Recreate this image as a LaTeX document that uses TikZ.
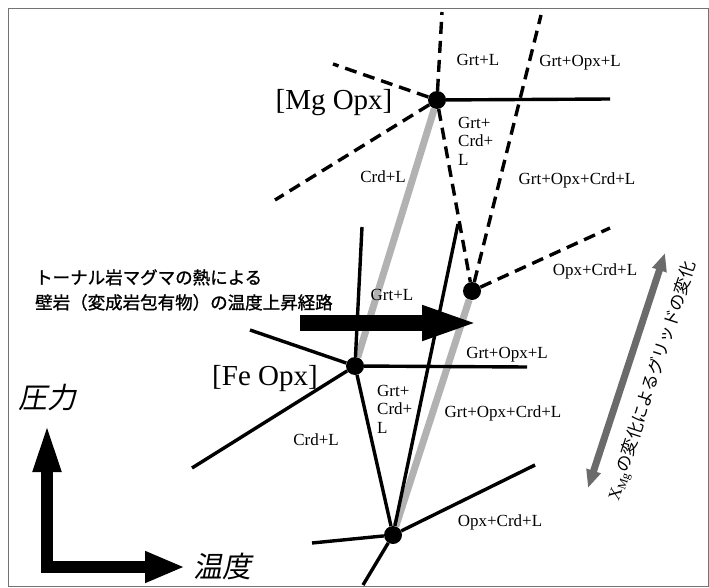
\documentclass[tikz,border=0pt]{standalone}
\usepackage{fontspec}
\setmainfont{Liberation Serif}
\newfontfamily\jp{Noto Sans CJK JP}
\newfontfamily\jpb[FakeBold=1.2]{Noto Sans CJK JP}
\newfontfamily\jpslant[FakeSlant=0.2]{Noto Sans CJK JP}
\usetikzlibrary{arrows.meta}
\begin{document}
\begin{tikzpicture}[x=1pt,y=-1pt,
  lab/.style={font=\fontsize{17}{18.5}\selectfont, inner sep=0pt},
  stack/.style={lab, align=left, anchor=west},
  big/.style={font=\fontsize{29}{30}\selectfont, inner sep=0pt, anchor=base},
  dot/.style={circle, fill=black, inner sep=0pt, minimum size=18pt},
  sol/.style={line width=3.4pt},
  dsh/.style={line width=3.4pt, dash pattern=on 12pt off 7pt},
  heatpath/.style={line width=7pt, color=black!30},
  ]
\useasboundingbox (0,0) rectangle (709,588);
\draw[black!55, line width=1pt] (8,9) rectangle (708,586);

% invariant points
\node[dot] (mg) at (437,100) {};
\node[dot] (mid) at (472,291) {};
\node[dot] (fe) at (355,366) {};
\node[dot] (bot) at (393,535) {};

% free ends
\coordinate (mgU) at (442,12);
\coordinate (mgUL) at (333,64);
\coordinate (mgDL) at (275,200);
\coordinate (mgR) at (610,99);
\coordinate (miU) at (541,15);
\coordinate (miR) at (610,228);
\coordinate (feU) at (362,227);
\coordinate (feUL) at (250,330);
\coordinate (feDL) at (192,468);
\coordinate (feR) at (527,367);
\coordinate (bU) at (458,224);
\coordinate (bUR) at (535,465);
\coordinate (bL) at (312,543);
\coordinate (bD) at (363,585);

% heating paths (gray)
\draw[heatpath] (mg) -- (fe);
\draw[heatpath] (mid) -- (bot);

% Mg Opx grid (dashed)
\draw[dsh] (mg) -- (mgU);
\draw[dsh] (mg) -- (mgUL);
\draw[dsh] (mg) -- (mgDL);
\draw[sol] (mg) -- (mgR);
\draw[dsh] (mg) -- (mid);
\draw[dsh] (mid) -- (miU);
\draw[dsh] (mid) -- (miR);

% Fe Opx grid (solid)
\draw[sol] (fe) -- (feU);
\draw[sol] (fe) -- (feUL);
\draw[sol] (fe) -- (feDL);
\draw[sol] (fe) -- (feR);
\draw[sol] (fe) -- (bot);
\draw[sol] (bU) -- (bot);
\draw[sol] (bot) -- (bUR);
\draw[sol] (bot) -- (bL);
\draw[sol] (bot) -- (bD);

% big heating arrow
\coordinate (arS) at (300,323);
\coordinate (arE) at (480,323);
\draw[line width=16pt, -{Triangle[length=58pt,width=31pt]}] (arS) -- (arE);

% axes
\coordinate (pTop) at (47,422);
\coordinate (orig) at (47,567);
\coordinate (tRight) at (185,567);
\draw[line width=12pt, miter limit=10, line join=miter,
  {Triangle[length=50pt,width=25pt]}-{Triangle[length=40pt,width=29pt]}]
  (pTop) -- (orig) -- (tRight);

% XMg arrow
\coordinate (xa) at (588,488);
\coordinate (xb) at (665,253);
\draw[line width=7pt, black!58,
  {Triangle[length=18pt,width=14pt]}-{Triangle[length=18pt,width=14pt]}] (xa) -- (xb);

% labels
\node[big] (mgl) at (334,110) {[Mg Opx]};
\node[big] (fel) at (265,385) {[Fe Opx]};

\node[lab] (l1) at (478,60) {Grt+L};
\node[lab] (l2) at (580,63) {Grt+Opx+L};
\node[stack] (l3) at (458,141) {Grt+\\Crd+\\L};
\node[lab] (l4) at (383,177) {Crd+L};
\node[lab] (l5) at (577,180) {Grt+Opx+Crd+L};
\node[lab] (l6) at (595,271) {Opx+Crd+L};
\node[lab] (l7) at (392,295) {Grt+L};
\node[lab] (l8) at (507,355) {Grt+Opx+L};
\node[stack] (l9) at (377,409) {Grt+\\Crd+\\L};
\node[lab] (l10) at (503,413) {Grt+Opx+Crd+L};
\node[lab] (l11) at (500,522) {Opx+Crd+L};
\node[lab] (l12) at (316,440) {Crd+L};

\node[font=\jpb\fontsize{17.5}{25}\selectfont, align=left, anchor=west, inner sep=0pt]
  (jt) at (35,290) {トーナル岩マグマの熱による\\壁岩（変成岩包有物）の温度上昇経路};

\node[font=\jpslant\fontsize{29}{30}\selectfont, inner sep=0pt] (pres) at (47,398) {圧力};
\node[font=\jpslant\fontsize{29}{30}\selectfont, inner sep=0pt] (temp) at (222,567) {温度};

\node[font=\jp\fontsize{17}{20}\selectfont, rotate=71.9, inner sep=0pt]
  (xmg) at (653,381) {{\rmfamily X\textsubscript{Mg}}の変化によるグリッドの変化};
\end{tikzpicture}
\end{document}
